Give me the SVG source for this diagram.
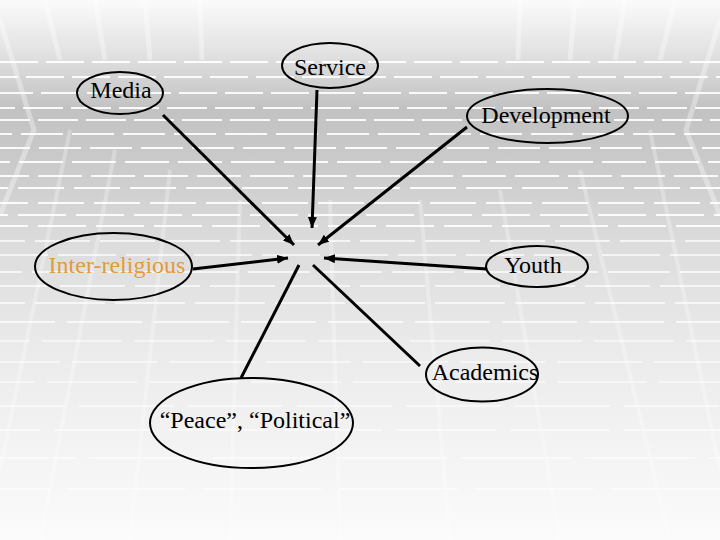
<svg xmlns="http://www.w3.org/2000/svg" width="720" height="540" viewBox="0 0 720 540">
<defs>
<linearGradient id="bg" x1="0" y1="0" x2="0" y2="1">
<stop offset="0" stop-color="#fbfbfb"/>
<stop offset="0.09" stop-color="#e4e4e4"/>
<stop offset="0.2" stop-color="#c2c2c2"/>
<stop offset="0.3" stop-color="#cacaca"/>
<stop offset="0.45" stop-color="#dcdcdc"/>
<stop offset="0.65" stop-color="#ebebeb"/>
<stop offset="1" stop-color="#fbfbfb"/>
</linearGradient>
<marker id="ah" markerUnits="userSpaceOnUse" markerWidth="12" markerHeight="10" refX="11" refY="4.5" orient="auto">
<path d="M0,0 L11,4.5 L0,9 z" fill="#000"/>
</marker>
<style>
.row{stroke:#fff;stroke-width:2;fill:none}
.persp{stroke:#fff;fill:none}
.node{fill:none;stroke:#000;stroke-width:2}
.conn{stroke:#000;stroke-width:3;fill:none}
</style>
</defs>
<g id="background">
<rect width="720" height="540" fill="url(#bg)"/>
<g class="persp" stroke-opacity="0.35" stroke-width="5">
<path d="M0,20 L34,130 L0,215"/>
<path d="M720,20 L686,130 L720,215"/>
<path d="M45,0 L60,60 M95,0 L105,60 M145,0 L150,60 M200,0 L202,60 M520,0 L518,60 M575,0 L570,60 M625,0 L615,60 M675,0 L660,60"/>
</g>
<g class="persp" stroke-opacity="0.28" stroke-width="4">
<path d="M0,470 L70,130 M40,540 L115,150 M130,540 L170,170 M230,540 L240,200 M340,540 L330,200 M450,540 L420,200 M560,540 L500,190 M670,540 L580,170 M720,470 L650,130"/>
</g>
<g class="row" stroke-opacity="0.9">
<path d="M0,62 H720" stroke-dasharray="38 8" stroke-dashoffset="0"/>
<path d="M0,77 H720" stroke-dasharray="38 8" stroke-dashoffset="20"/>
<path d="M0,93 H720" stroke-dasharray="38 8" stroke-dashoffset="5"/>
<path d="M0,108 H720" stroke-dasharray="40 8" stroke-dashoffset="25"/>
<path d="M0,120 H720" stroke-dasharray="40 8" stroke-dashoffset="10"/>
<path d="M0,134 H720" stroke-dasharray="42 9" stroke-dashoffset="30"/>
<path d="M0,148 H720" stroke-dasharray="42 9" stroke-dashoffset="12"/>
<path d="M0,162 H720" stroke-dasharray="44 9" stroke-dashoffset="34"/>
<path d="M0,176 H720" stroke-dasharray="44 9" stroke-dashoffset="15"/>
<path d="M0,188 H720" stroke-dasharray="46 10" stroke-dashoffset="38"/>
<path d="M0,203 H720" stroke-dasharray="46 10" stroke-dashoffset="18"/>
<path d="M0,215 H720" stroke-dasharray="48 10" stroke-dashoffset="40"/>
<path d="M0,226 H720" stroke-dasharray="48 10" stroke-dashoffset="20"/>
</g>
<g class="row" stroke-opacity="0.7">
<path d="M0,241 H720" stroke-dasharray="55 10" stroke-dashoffset="30"/>
<path d="M0,255 H720" stroke-dasharray="58 10" stroke-dashoffset="10"/>
<path d="M0,272 H720" stroke-dasharray="62 10" stroke-dashoffset="40"/>
<path d="M0,286 H720" stroke-dasharray="65 10" stroke-dashoffset="15"/>
<path d="M0,303 H720" stroke-dasharray="70 10" stroke-dashoffset="45"/>
<path d="M0,322 H720" stroke-dasharray="75 12" stroke-dashoffset="20"/>
</g>
<g class="row" stroke-opacity="0.5">
<path d="M0,341 H720" stroke-dasharray="80 12" stroke-dashoffset="50"/>
<path d="M0,362 H720" stroke-dasharray="85 12" stroke-dashoffset="25"/>
<path d="M0,382 H720" stroke-dasharray="90 12" stroke-dashoffset="55"/>
<path d="M0,406 H720" stroke-dasharray="95 14" stroke-dashoffset="30"/>
<path d="M0,430 H720" stroke-dasharray="100 14" stroke-dashoffset="60"/>
<path d="M0,458 H720" stroke-dasharray="110 14" stroke-dashoffset="35"/>
<path d="M0,489 H720" stroke-dasharray="120 16" stroke-dashoffset="70"/>
</g>
</g>
<g id="connectors">
<path class="conn" d="M163,115 L294,245" marker-end="url(#ah)"/>
<path class="conn" d="M317,90 L312,228" marker-end="url(#ah)"/>
<path class="conn" d="M467,127 L318,245" marker-end="url(#ah)"/>
<path class="conn" d="M193,269 L288,258" marker-end="url(#ah)"/>
<path class="conn" d="M487,269 L324,258" marker-end="url(#ah)"/>
<path class="conn" d="M420,366 L313,265"/>
<path class="conn" d="M241,378 L299,265"/>
</g>
<g font-family="'Liberation Serif', 'DejaVu Serif', serif" font-size="24" text-anchor="middle" fill="#000">
<g id="media">
<ellipse class="node" cx="120" cy="93" rx="43" ry="21"/>
<text x="121" y="98">Media</text>
</g>
<g id="service">
<ellipse class="node" cx="330" cy="65.5" rx="48" ry="22.5"/>
<text x="330" y="75">Service</text>
</g>
<g id="development">
<ellipse class="node" cx="547.5" cy="116" rx="80.5" ry="27"/>
<text x="546" y="123">Development</text>
</g>
<g id="inter-religious">
<ellipse class="node" cx="113.5" cy="266.5" rx="78.5" ry="33.5"/>
<text x="117" y="273" fill="#e39a3a">Inter-religious</text>
</g>
<g id="youth">
<ellipse class="node" cx="537" cy="266.5" rx="51" ry="20.5"/>
<text x="533" y="273">Youth</text>
</g>
<g id="academics">
<ellipse class="node" cx="482" cy="374.5" rx="56" ry="27"/>
<text x="485" y="380">Academics</text>
</g>
<g id="peace-political">
<ellipse class="node" cx="251.5" cy="423" rx="101.5" ry="45"/>
<text x="255" y="428">“Peace”, “Political”</text>
</g>
</g>
</svg>
